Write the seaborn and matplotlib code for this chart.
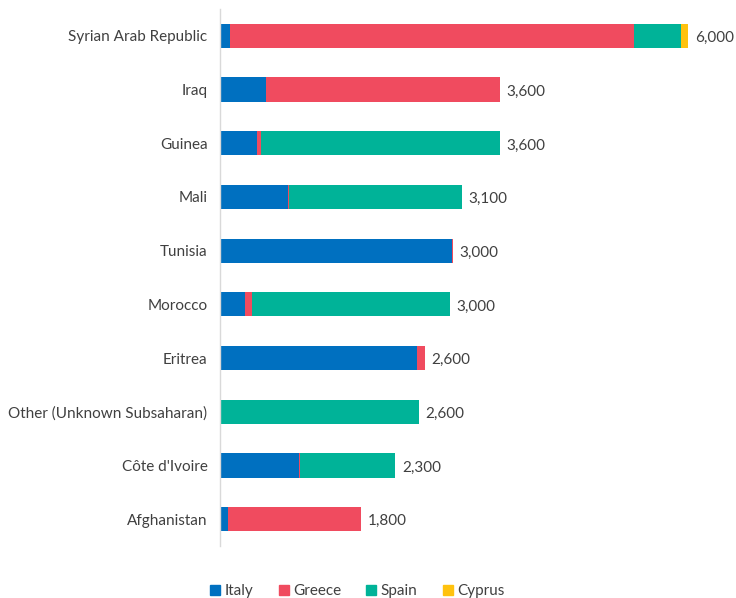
import matplotlib
matplotlib.use("Agg")
import matplotlib.pyplot as plt
import seaborn as sns
import numpy as np
import pandas as pd
from matplotlib.lines import Line2D

countries = ["Syrian Arab Republic", "Iraq", "Guinea", "Mali", "Tunisia", "Morocco",
             "Eritrea", "Other (Unknown Subsaharan)", "Côte d'Ivoire", "Afghanistan"]
italy = [128, 588, 473, 875, 2997, 323, 2546, 0, 1017, 97]
greece = [5211, 3028, 62, 18, 13, 84, 97, 0, 13, 1728]
spain = [614, 0, 3081, 2228, 0, 2559, 0, 2564, 1235, 0]
cyprus = [88, 0, 0, 0, 0, 0, 0, 0, 0, 0]
series_names = ["Italy", "Greece", "Spain", "Cyprus"]
colors = ["#0070C0", "#F04B5F", "#00B398", "#FFC20E"]

sns.set_theme(style="white")
plt.rcParams["font.family"] = ["Lato", "DejaVu Sans"]
text_color = "#404040"

df = pd.DataFrame({"country": countries, "Italy": italy, "Greece": greece,
                   "Spain": spain, "Cyprus": cyprus})
cum = df[series_names].cumsum(axis=1)

fig = plt.figure(figsize=(7.36, 5.98), dpi=100)
ax = fig.add_axes([220 / 736, 52 / 598, 516 / 736, (598 - 52 - 9) / 598])

for name, col in reversed(list(zip(series_names, colors))):
    sns.barplot(x=cum[name], y=df["country"], color=col, orient="h", width=0.45,
                ax=ax, linewidth=0, saturation=1)

totals = cum["Cyprus"].values
for i, t in enumerate(totals):
    lab = f"{int(round(t / 100.0) * 100):,}"
    ax.text(t + 85, i + 0.04, lab, va="center", ha="left", fontsize=11, color=text_color)

ax.set_xlim(0, 6660)
ax.set_ylim(9.5, -0.5)
ax.set_xlabel("")
ax.set_ylabel("")
ax.set_xticks([])
for s in ["top", "right", "bottom"]:
    ax.spines[s].set_visible(False)
ax.spines["left"].set_color("#d9d9d9")
ax.spines["left"].set_linewidth(1)
ax.tick_params(axis="y", length=0, pad=9, labelsize=11, labelcolor=text_color)

handles = [Line2D([0], [0], marker="s", linestyle="none", markersize=7,
                  markerfacecolor=c, markeredgecolor=c) for c in colors]
fig.legend(handles, series_names, loc="center", bbox_to_anchor=(356 / 736, 1 - 591 / 598),
           ncol=4, frameon=False, fontsize=11, handletextpad=0.1, columnspacing=1.5,
           labelcolor=text_color, handlelength=1.0)

fig.savefig("out.png", dpi=100)
